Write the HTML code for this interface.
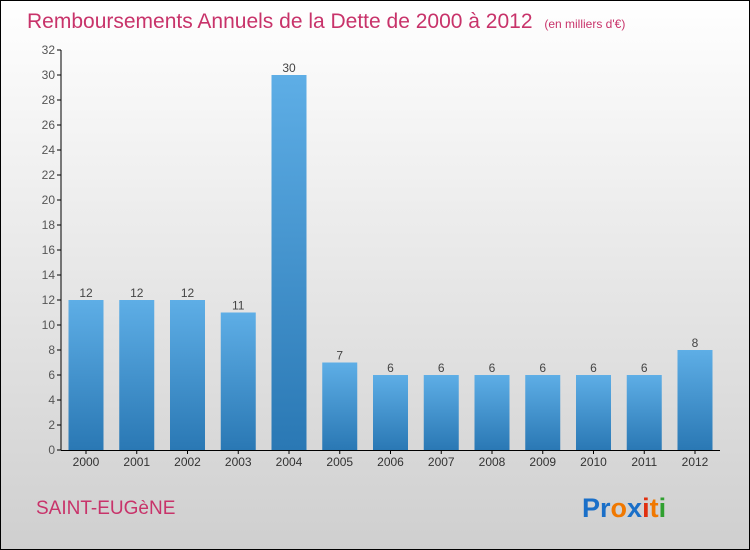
<!DOCTYPE html>
<html><head><meta charset="utf-8"><style>
body{margin:0;width:750px;height:550px;overflow:hidden}
svg{display:block;font-family:"Liberation Sans",sans-serif}
</style></head><body>
<svg width="750" height="550">
<defs>
<linearGradient id="bg" x1="0" y1="0" x2="0" y2="1"><stop offset="0" stop-color="#ffffff"/><stop offset="1" stop-color="#cfcfcf"/></linearGradient>
<linearGradient id="bar" x1="0" y1="0" x2="0" y2="1"><stop offset="0" stop-color="#5eaee6"/><stop offset="1" stop-color="#2a78b4"/></linearGradient>
</defs>
<rect x="0.5" y="0.5" width="749" height="549" fill="url(#bg)" stroke="#000"/>
<text x="27" y="28" font-size="21" fill="#c8336a">Remboursements Annuels de la Dette de 2000 à 2012 <tspan font-size="12" dx="6">(en milliers d'€)</tspan></text>
<g id="yaxis"></g>
<g id="bars"></g>
<g id="xaxis"></g>
<text x="36" y="514" font-size="19" fill="#c8336a">SAINT-EUGèNE</text>
<text x="582" y="517" font-size="27" font-weight="bold"><tspan fill="#1a6fc8">Pr</tspan><tspan fill="#f07800">o</tspan><tspan fill="#1a6fc8">x</tspan><tspan fill="#e03010">i</tspan><tspan fill="#f07800">t</tspan><tspan fill="#30a030">i</tspan></text>
</svg>
<script>
const categories=["2000","2001","2002","2003","2004","2005","2006","2007","2008","2009","2010","2011","2012"];
const values=[12,12,12,11,30,7,6,6,6,6,6,6,8];
const yTicks=[0,2,4,6,8,10,12,14,16,18,20,22,24,26,28,30,32];
const NS="http://www.w3.org/2000/svg";
const y0=450,yMax=32,pxPer=400/yMax;
function yScale(v){return y0-v*pxPer;}
function xScale(i){return 86+i*50.75;}
function mk(tag,attrs,parent){const e=document.createElementNS(NS,tag);for(const k in attrs)e.setAttribute(k,attrs[k]);parent.appendChild(e);return e;}
const ya=document.getElementById('yaxis'),bg=document.getElementById('bars'),xa=document.getElementById('xaxis');
let l=mk('line',{x1:61,y1:yScale(yMax),x2:61,y2:y0,stroke:'#000'},ya);


yTicks.forEach(t=>{
 const tk=mk('line',{x1:57,x2:61,y1:yScale(t),y2:yScale(t),stroke:'#000'},ya);
 
 
 const tx=mk('text',{x:55,y:yScale(t)+4,'text-anchor':'end','font-size':12,fill:'#555'},ya);
 
 
 tx.textContent=t;
});
let xl=mk('line',{x1:61,y1:y0+0.5,x2:720,y2:y0+0.5,stroke:'#000'},xa);


categories.forEach((c,i)=>{
 const cx=xScale(i),v=values[i];
 const r=mk('rect',{x:cx-17.5,y:yScale(v),width:35,height:y0-yScale(v),fill:'url(#bar)'},bg);
 
 
 const vl=mk('text',{x:cx,y:yScale(v)-3,'text-anchor':'middle','font-size':12,fill:'#444'},bg);
 
 
 vl.textContent=v;
 const tk=mk('line',{x1:cx,x2:cx,y1:y0,y2:y0+4,stroke:'#000'},xa);
 
 
 const tx=mk('text',{x:cx,y:466,'text-anchor':'middle','font-size':12,fill:'#333'},xa);
 
 
 tx.textContent=c;
});
</script>
</body></html>
